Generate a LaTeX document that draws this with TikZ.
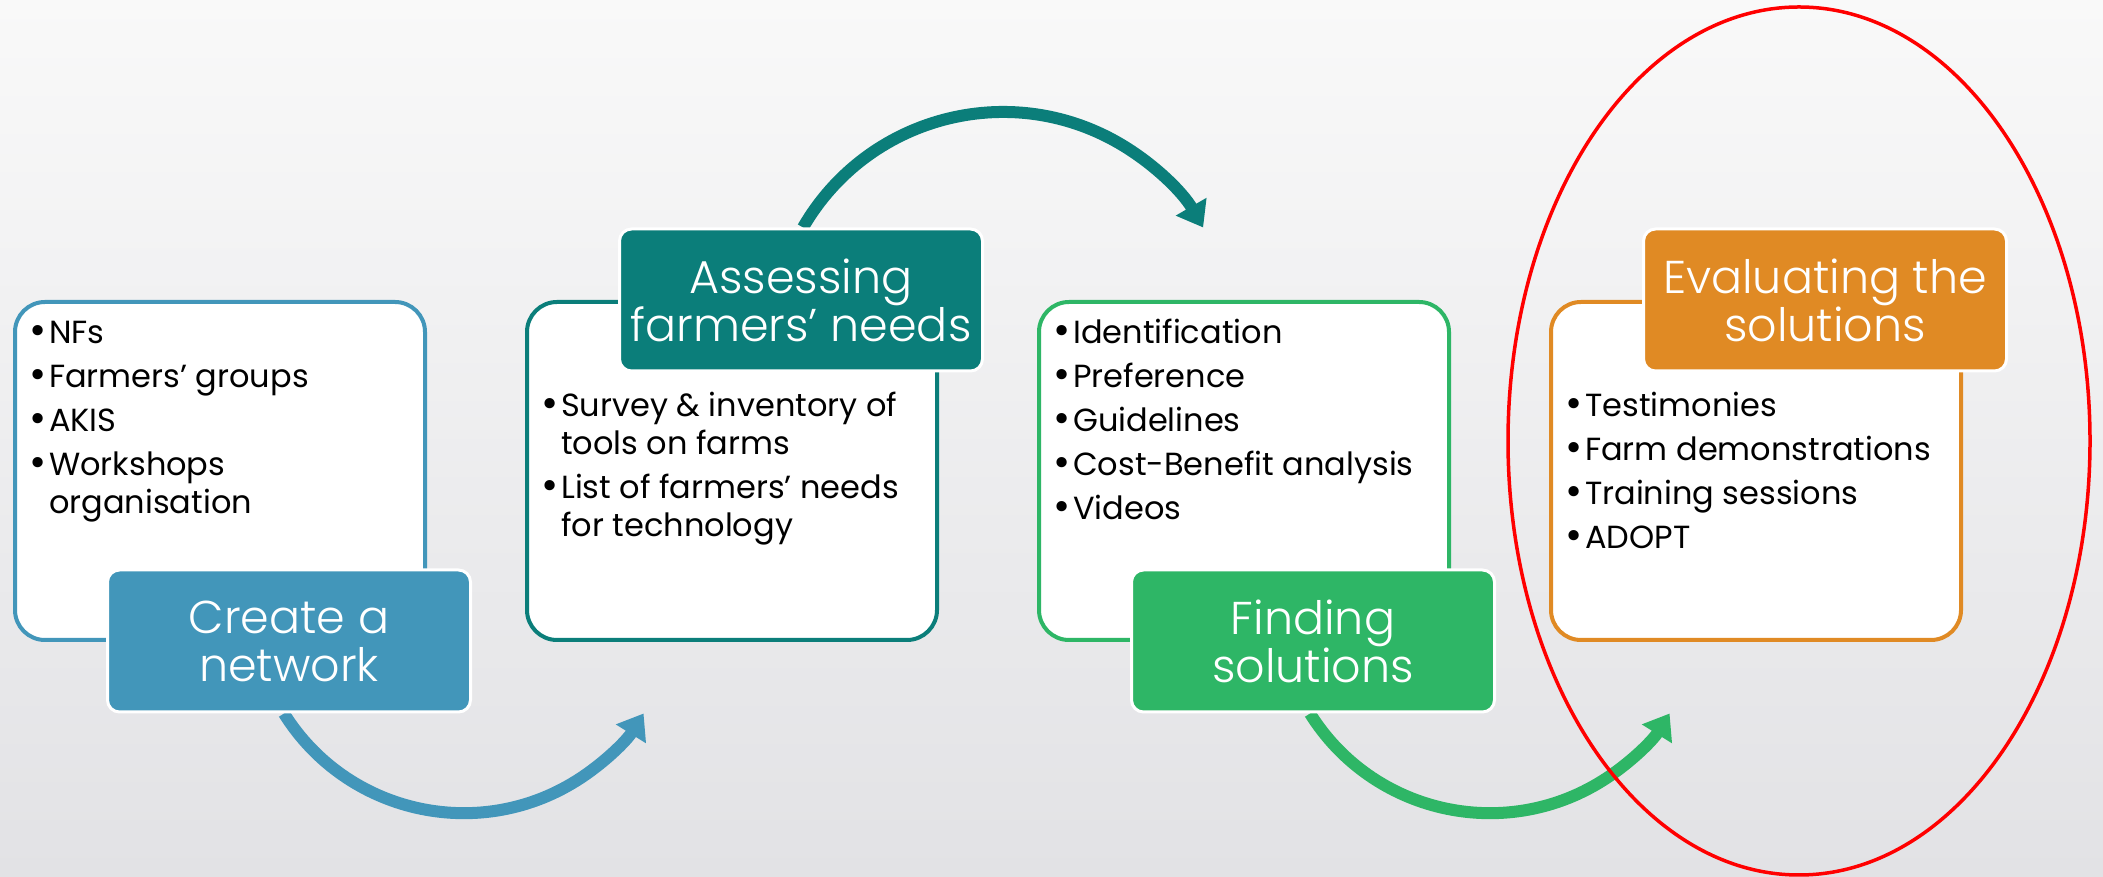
\documentclass[tikz,border=0pt]{standalone}
\usepackage{fontspec}
\setmainfont{Poppins}
\newfontfamily\labelfont{Poppins Light}
\usetikzlibrary{positioning,calc,arrows.meta,backgrounds}

\definecolor{netblue}{HTML}{4296BA}
\definecolor{needteal}{HTML}{0B7E7A}
\definecolor{solgreen}{HTML}{2EB666}
\definecolor{evalorange}{HTML}{E08A24}
\definecolor{bgtop}{HTML}{F9F9F9}
\definecolor{bgbottom}{HTML}{E2E2E5}

\newcommand{\bul}{\makebox[20pt][l]{\raisebox{-1pt}{\scalebox{1.3}{\textbullet}}}}

\tikzset{
  stagebox/.style={draw=#1, line width=4, fill=white, rounded corners=30,
    minimum width=410, minimum height=338, inner sep=0},
  stagelabel/.style={fill=#1, draw=white, line width=3, rounded corners=12,
    minimum width=363, minimum height=142, text=white, align=center,
    font=\labelfont\fontsize{46}{48}\selectfont},
  itemlist/.style={anchor=base west, inner sep=0, font=\fontsize{32}{38}\selectfont},
  flowarrow/.style={draw=#1, line width=12, -{Triangle[length=24,width=34]}},
}

\begin{document}
\begin{tikzpicture}[x=1pt,y=1pt]
  % Backdrop
  \begin{scope}[on background layer]
    \shade[top color=bgtop, bottom color=bgbottom] (0,0) rectangle (2103,877);
  \end{scope}
  \useasboundingbox (0,0) rectangle (2103,877);

  % The four stage boxes
  \node[stagebox=netblue]    (box1) at (220,406)  {};
  \node[stagebox=needteal]   (box2) at (732,406)  {};
  \node[stagebox=solgreen]   (box3) at (1244,406) {};
  \node[stagebox=evalorange] (box4) at (1756,406) {};

  % Bullet lists
  \node[itemlist] (list1) at ($(box1.north west)+(16,-44)$) {\begin{tabular}[t]{@{}l@{}l@{}}
      \bul & NFs\\[6pt]
      \bul & Farmers’ groups\\[6pt]
      \bul & AKIS\\[6pt]
      \bul & Workshops\\
           & organisation
    \end{tabular}};
  \node[itemlist] (list2) at ($(box2.north west)+(16,-117)$) {\begin{tabular}[t]{@{}l@{}l@{}}
      \bul & Survey \& inventory of\\
           & tools on farms\\[6pt]
      \bul & List of farmers’ needs\\
           & for technology
    \end{tabular}};
  \node[itemlist] (list3) at ($(box3.north west)+(16,-44)$) {\begin{tabular}[t]{@{}l@{}l@{}}
      \bul & Identification\\[6pt]
      \bul & Preference\\[6pt]
      \bul & Guidelines\\[6pt]
      \bul & Cost-Benefit analysis\\[6pt]
      \bul & Videos
    \end{tabular}};
  \node[itemlist] (list4) at ($(box4.north west)+(16,-117)$) {\begin{tabular}[t]{@{}l@{}l@{}}
      \bul & Testimonies\\[6pt]
      \bul & Farm demonstrations\\[6pt]
      \bul & Training sessions\\[6pt]
      \bul & ADOPT
    \end{tabular}};

  % Stage titles
  \node[stagelabel=netblue]    (lab1) at ($(box1.south)+(69,1)$) {Create a\\network};
  \node[stagelabel=needteal]   (lab2) at ($(box2.north)+(69,0)$) {Assessing\\farmers’ needs};
  \node[stagelabel=solgreen]   (lab3) at ($(box3.south)+(69,1)$) {Finding\\solutions};
  \node[stagelabel=evalorange] (lab4) at ($(box4.north)+(69,0)$) {Evaluating the\\solutions};

  % Curved arrows between stages
  \begin{scope}[on background layer]
    \draw[flowarrow=netblue] ([xshift=-5]lab1.south) arc[start angle=212, end angle=328, radius=212];
    \draw[flowarrow=needteal] ([xshift=2]lab2.north) arc[start angle=150, end angle=30, radius=231];
    \draw[flowarrow=solgreen] ([xshift=-3]lab3.south) arc[start angle=212, end angle=328, radius=212];
  \end{scope}

  % Highlight round the last stage
  \draw[red, line width=3.5] ($(box4.center)+(43,30)$) ellipse [x radius=291, y radius=434];
\end{tikzpicture}
\end{document}
